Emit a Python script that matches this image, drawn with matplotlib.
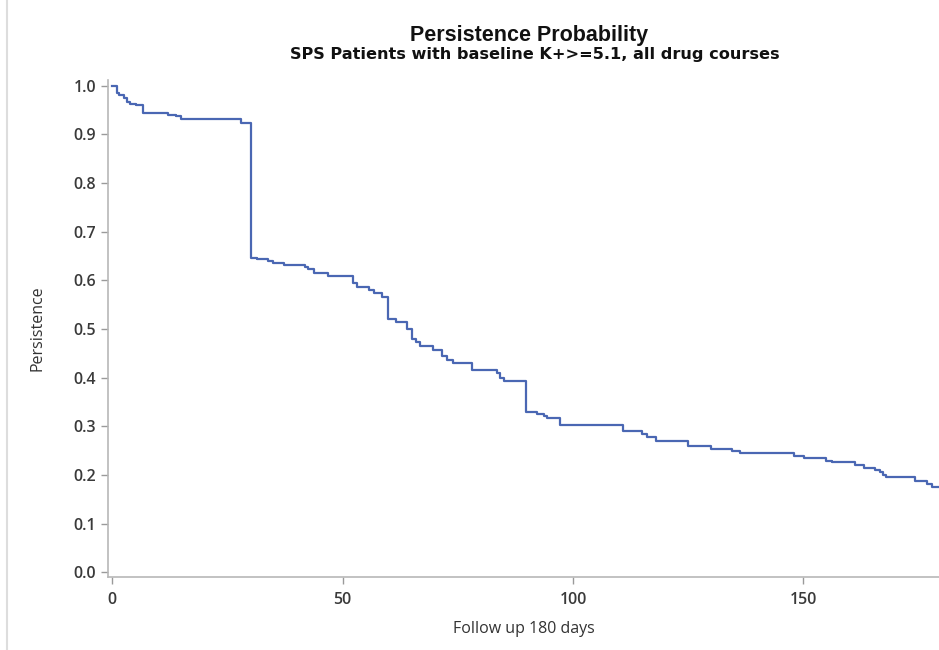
import matplotlib
matplotlib.use("Agg")
import matplotlib.pyplot as plt
from matplotlib.lines import Line2D

# Kaplan-Meier style persistence curve
days = [0, 1.0, 1.5, 2.6, 3.2, 3.9, 5.2, 6.8, 12.1, 13.9, 15.0, 28.0, 30.1, 31.4,
        33.8, 35.0, 37.2, 41.9, 42.6, 43.9, 46.9, 52.2, 53.1, 55.8, 56.9, 58.6,
        59.8, 61.5, 63.9, 65.0, 65.9, 66.8, 69.7, 71.5, 72.6, 73.9, 78.0, 83.4,
        84.2, 85.0, 89.9, 92.1, 93.6, 94.3, 97.2, 110.9, 114.9, 116.1, 117.9,
        125.0, 129.9, 134.4, 136.2, 148.0, 150.2, 154.9, 156.1, 161.2, 163.1,
        165.5, 166.6, 167.3, 168.0, 174.2, 176.7, 177.8, 179.5]
persistence = [1.0, 0.986, 0.981, 0.975, 0.966, 0.963, 0.960, 0.944, 0.940, 0.937,
               0.931, 0.924, 0.646, 0.643, 0.639, 0.636, 0.632, 0.627, 0.623, 0.615,
               0.608, 0.594, 0.586, 0.580, 0.573, 0.565, 0.521, 0.514, 0.500, 0.479,
               0.473, 0.466, 0.456, 0.445, 0.437, 0.430, 0.416, 0.409, 0.399, 0.393,
               0.330, 0.326, 0.322, 0.317, 0.303, 0.291, 0.284, 0.277, 0.270, 0.259,
               0.253, 0.250, 0.245, 0.239, 0.234, 0.228, 0.226, 0.221, 0.214, 0.210,
               0.205, 0.200, 0.195, 0.188, 0.181, 0.176, 0.176]
x_ticks = [0, 50, 100, 150]
y_ticks = [0.0, 0.1, 0.2, 0.3, 0.4, 0.5, 0.6, 0.7, 0.8, 0.9, 1.0]

title = "Persistence Probability"
subtitle = "SPS Patients with baseline K+>=5.1, all drug courses"
xlabel = "Follow up 180 days"
ylabel = "Persistence"

fig = plt.figure(figsize=(9.39, 6.5), dpi=100)
ax = fig.add_axes([108 / 939, 1 - 577 / 650, 831 / 939, (577 - 80) / 650])

ax.step(days, persistence, where="post", color="#4a67b3", linewidth=1.6)

ax.set_xlim(-0.9, 179.4)
ax.set_ylim(-0.010, 1.012)
ax.set_xticks(x_ticks)
ax.set_yticks(y_ticks)
ax.set_yticklabels([f"{v:.1f}" for v in y_ticks])

for side in ("top", "right"):
    ax.spines[side].set_visible(False)
for side in ("left", "bottom"):
    ax.spines[side].set_color("#b8b8b8")
    ax.spines[side].set_linewidth(1.2)

ax.tick_params(axis="both", colors="#9a9a9a", length=5, width=1, direction="out",
               labelcolor="#3a3a3a", labelsize=11.5)
ax.tick_params(axis="x", pad=6)
for lab in ax.get_xticklabels() + ax.get_yticklabels():
    lab.set_family("Open Sans")
    lab.set_fontweight("semibold")

ax.set_xlabel(xlabel, fontsize=11.5, color="#333333", family="Open Sans", labelpad=9)
ax.set_ylabel(ylabel, fontsize=11.5, color="#333333", family="Open Sans", labelpad=20)

fig.text(529 / 939, 1 - 35 / 650, title, ha="center", va="center", fontsize=15.5,
         fontweight="bold", family="Liberation Sans", color="#111111")
fig.text(534.5 / 939, 1 - 55 / 650, subtitle, ha="center", va="center", fontsize=11.6,
         fontweight="bold", family="DejaVu Sans", color="#111111")

# faint page border on the left
fig.add_artist(Line2D([7 / 939, 7 / 939], [0, 1], transform=fig.transFigure,
                      color="#dddddd", linewidth=1.5))

fig.savefig("out.png", dpi=100)
